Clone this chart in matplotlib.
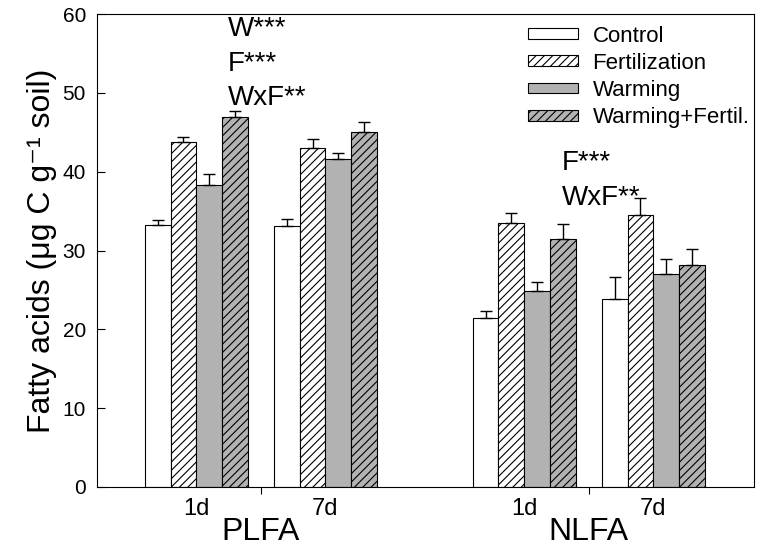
import matplotlib
matplotlib.use("Agg")
import matplotlib.pyplot as plt
import numpy as np

plt.rcParams['font.family'] = ['Liberation Sans', 'DejaVu Sans']
plt.rcParams['hatch.linewidth'] = 0.8

# Data
treatments = ["Control", "Fertilization", "Warming", "Warming+Fertil."]
group_labels = ["1d", "7d", "1d", "7d"]
set_labels = ["PLFA", "NLFA"]

control = [33.2, 33.1, 21.4, 23.9]
control_err = [0.7, 0.9, 0.9, 2.8]
fertilization = [43.7, 43.0, 33.5, 34.5]
fertilization_err = [0.75, 1.2, 1.2, 2.2]
warming = [38.3, 41.6, 24.8, 27.0]
warming_err = [1.4, 0.8, 1.2, 1.9]
warm_fert = [46.9, 45.0, 31.4, 28.1]
warm_fert_err = [0.75, 1.3, 2.0, 2.1]

plfa_stats = ["W***", "F***", "WxF**"]
nlfa_stats = ["F***", "WxF**"]

values = [control, fertilization, warming, warm_fert]
errors = [control_err, fertilization_err, warming_err, warm_fert_err]

# Styles
facecolors = ["white", "white", "#b2b2b2", "#b2b2b2"]
hatches = [None, "////", None, "////"]

fig = plt.figure(figsize=(7.61, 5.47), dpi=100)
ax = fig.add_axes([97/761, 60/547, 657/761, 473/547])

centers = np.array([3.85, 8.85, 16.55, 21.55])
offsets = [-1.5, -0.5, 0.5, 1.5]
width = 1.0

handles = []
for i in range(4):
    x = centers + offsets[i]
    b = ax.bar(x, values[i], width, color=facecolors[i], edgecolor="black",
               linewidth=0.8, hatch=hatches[i], label=treatments[i], zorder=2)
    handles.append(b)
    err = np.array(errors[i])
    ax.errorbar(x, values[i], yerr=[np.zeros_like(err), err], fmt="none",
                ecolor="black", elinewidth=1.0, capsize=4.5, capthick=1.0, zorder=3)

ax.set_xlim(0, 25.45)
ax.set_ylim(0, 60)
ax.set_yticks(np.arange(0, 61, 10))
ax.tick_params(axis="y", direction="in", length=6, width=0.8, labelsize=15, pad=8)

ax.set_xticks(centers)
ax.set_xticklabels(group_labels)
ax.tick_params(axis="x", which="major", length=0, labelsize=17, pad=8)
mids = [(centers[0] + centers[1]) / 2, (centers[2] + centers[3]) / 2]
ax.set_xticks(mids, minor=True)
ax.tick_params(axis="x", which="minor", direction="out", length=5, width=0.8)

for m, lab in zip(mids, set_labels):
    ax.text(m, -0.112, lab, transform=ax.get_xaxis_transform(), ha="center",
            va="baseline", fontsize=23)

for sp in ax.spines.values():
    sp.set_linewidth(0.8)

ax.set_ylabel("Fatty acids (\u03bcg C g\u207b\u00b9 soil)", fontsize=23, labelpad=4)

# Annotations
for k, s in enumerate(plfa_stats):
    ax.text(5.08, 57.2 - 4.4 * k, s, fontsize=20, ha="left", va="baseline")
for k, s in enumerate(nlfa_stats):
    ax.text(18.02, 40.2 - 4.4 * k, s, fontsize=20, ha="left", va="baseline")

ax.legend(handles=handles, loc="upper right", bbox_to_anchor=(1.0, 0.985),
          frameon=False, fontsize=16, handlelength=2.25, handleheight=0.38,
          handletextpad=0.65, labelspacing=0.28, borderpad=0, borderaxespad=0.2)

fig.savefig("out.png", dpi=100)
